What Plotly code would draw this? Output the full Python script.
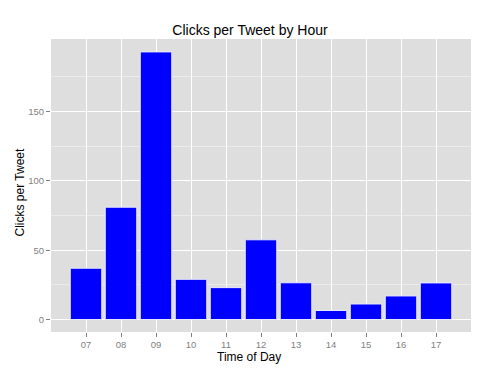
import plotly.graph_objects as go

hours = ["07", "08", "09", "10", "11", "12", "13", "14", "15", "16", "17"]
clicks = [37, 81, 193, 29, 23, 57.5, 26.5, 6.5, 11.2, 17, 26.4]

W, H = 500, 375
l, r, t, b = 51, 29, 39, 43
pw, ph = W - l - r, H - t - b

fig = go.Figure()
fig.add_trace(go.Bar(
    x=hours, y=clicks, width=0.9,
    marker=dict(color="#0000FF", line=dict(color="#E8E8FF", width=1)),
))

fig.update_layout(
    width=W, height=H,
    margin=dict(l=l, r=r, t=t, b=b),
    paper_bgcolor="white",
    plot_bgcolor="#DEDEDE",
    showlegend=False,
    font=dict(family="Liberation Sans, Arial, sans-serif", color="black"),
    title=dict(text="Clicks per Tweet by Hour", x=(250 - l) / pw, xref="paper", xanchor="center",
               y=1 - 30 / H, yref="container", yanchor="middle",
               font=dict(size=14, color="black")),
    annotations=[
        dict(text="Time of Day", x=(249 - l) / pw, y=(H - b - 357) / ph, xref="paper", yref="paper",
             showarrow=False, font=dict(size=12, color="black"), xanchor="center", yanchor="middle"),
        dict(text="Clicks per Tweet", x=(19 - l) / pw, y=(H - b - 192.5) / ph, xref="paper", yref="paper",
             showarrow=False, textangle=-90, font=dict(size=12, color="black"),
             xanchor="center", yanchor="middle"),
    ],
)

fig.update_xaxes(
    type="category", range=[-1, 11],
    showgrid=True, gridcolor="white", gridwidth=1,
    ticks="outside", ticklen=4, tickcolor="#7F7F7F", tickwidth=1,
    tickfont=dict(size=9.5, color="#7F7F7F"),
    zeroline=False, showline=False,
)
fig.update_yaxes(
    range=[-9.0, 202.3],
    tickvals=[0, 50, 100, 150],
    showgrid=True, gridcolor="white", gridwidth=1,
    minor=dict(tickvals=[25, 75, 125, 175], showgrid=True, gridcolor="#EBEBEB", gridwidth=0.6),
    ticks="outside", ticklen=4, tickcolor="#7F7F7F", tickwidth=1,
    tickfont=dict(size=9.5, color="#7F7F7F"),
    zeroline=False, showline=False,
)

fig.write_html("out.html")
